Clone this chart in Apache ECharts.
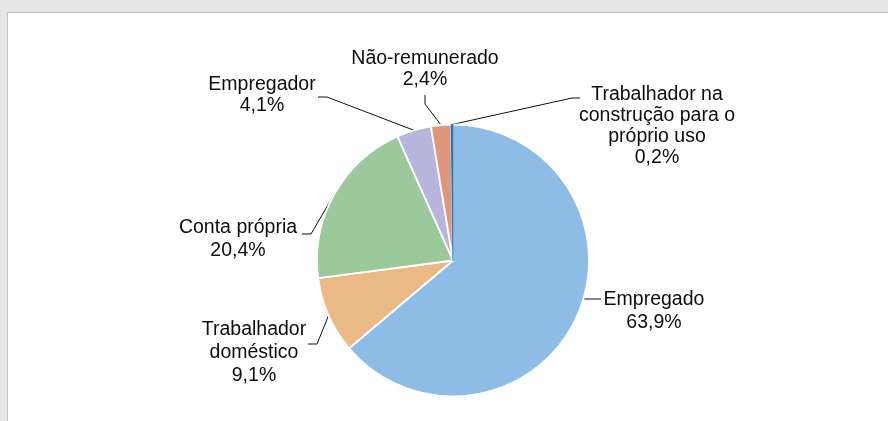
<!DOCTYPE html>
<html>
<head>
<meta charset="utf-8">
<script src="https://cdn.jsdelivr.net/npm/echarts@6/dist/echarts.min.js"></script>
<style>
  html, body { margin: 0; padding: 0; background: #e5e6e7; }
  #panel { position: absolute; left: 7px; top: 12px; width: 900px; height: 430px;
           background: #fff; border-left: 1.5px solid #c2c3c4; border-top: 1.5px solid #c2c3c4; }
  #chart { position: absolute; left: 0; top: 0; width: 888px; height: 421px; }
</style>
</head>
<body>
<div id="panel"></div>
<div id="chart"></div>
<script>
// categorias e valores (%)
var categories = ['Empregado', 'Trabalhador\ndoméstico', 'Conta própria', 'Empregador', 'Não-remunerado', 'Trabalhador na\nconstrução para o\npróprio uso'];
var values = [63.9, 9.1, 20.4, 4.1, 2.4, 0.2];
var colors = ['#8dbce6', '#ebb986', '#9bc99b', '#b7b5db', '#e0967a', '#2e75b6'];

// posição dos rótulos (centro do bloco de texto) e linhas de chamada
var labelPos = [[654, 311], [254, 353], [238, 239], [262, 95], [425, 69], [657, 126]];
var labelLH = [23, 23, 23, 21, 21, 21];
var lineElbow = [[581, 299], [317, 344], [311, 234], [327, 97], [425, 104], [572, 98]];
var lineEnd = [[601, 299], [308, 344], [302, 234], [318, 97], [425, 95], [580, 98]];

var myChart = echarts.init(document.getElementById('chart'));

var pieData = categories.map(function (c, i) {
    var item = {
        name: c,
        value: values[i],
        itemStyle: { color: colors[i] },
        label: { lineHeight: labelLH[i] }
    };
    if (i == 5) {
        item.itemStyle.borderColor = colors[i];
        item.itemStyle.borderWidth = 1.2;
    }
    return item;
});

var option = {
    backgroundColor: 'transparent',
    animation: false,
    series: [{
        type: 'pie',
        center: [453, 260.5],
        radius: 136,
        startAngle: 90,
        clockwise: true,
        avoidLabelOverlap: false,
        itemStyle: {
            borderColor: '#fff',
            borderWidth: 1.8
        },
        label: {
            show: true,
            position: 'outside',
            fontFamily: 'Liberation Sans, Arial, sans-serif',
            fontSize: 19.5,
            color: '#0d0d0d',
            formatter: function (p) {
                return p.name + '\n' + p.value.toFixed(1).replace('.', ',') + '%';
            }
        },
        labelLine: {
            show: true,
            lineStyle: { color: '#111', width: 1 }
        },
        labelLayout: function (params) {
            var i = params.dataIndex;
            var start = i == 0 ? lineElbow[0] : params.labelLinePoints[0];
            return {
                x: labelPos[i][0],
                y: labelPos[i][1],
                align: 'center',
                verticalAlign: 'middle',
                labelLinePoints: [start, lineElbow[i], lineEnd[i]]
            };
        },
        data: pieData
    }]
};
myChart.setOption(option);
window.addEventListener("resize", function () {
    myChart.resize();
});
</script>
</body>
</html>
